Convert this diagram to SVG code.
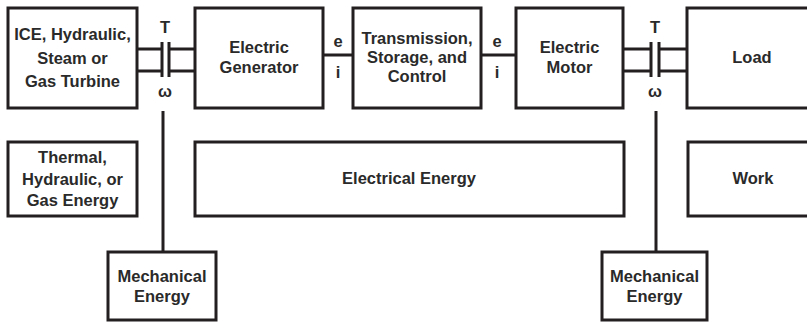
<svg xmlns="http://www.w3.org/2000/svg" width="807" height="322" viewBox="0 0 807 322">
<style>
.box{fill:#fff;stroke:#231f20;stroke-width:3}
.ln{stroke:#231f20;stroke-width:3;fill:none}
.t{font-family:"Liberation Sans",Arial,sans-serif;font-weight:bold;font-size:16.5px;fill:#2a2a2a;text-anchor:middle}
</style>
<rect width="807" height="322" fill="#fff"/>
<g id="connectors">
<path class="ln" d="M137 49H162M137 71H162M169 49H195M169 71H195M162 42V77M169 42V77"/>
<path class="ln" d="M163 111V252"/>
<path class="ln" d="M323 55H353M481 55H516"/>
<path class="ln" d="M623 49H651M623 71H651M659 49H687M659 71H687M651 42V77M659 42V77"/>
<path class="ln" d="M656 111V252"/>
<text class="t" x="165" y="33">T</text>
<text class="t" x="165" y="97">ω</text>
<text class="t" x="338" y="47">e</text>
<text class="t" x="338" y="78">i</text>
<text class="t" x="497" y="47">e</text>
<text class="t" x="497" y="78">i</text>
<text class="t" x="655" y="33">T</text>
<text class="t" x="655" y="97">ω</text>
</g>
<g id="ice">
<rect class="box" x="8" y="8" width="129" height="100"/>
<text class="t" x="72.5" y="40">ICE, Hydraulic,</text>
<text class="t" x="72.5" y="64">Steam or</text>
<text class="t" x="72.5" y="87">Gas Turbine</text>
</g>
<g id="generator">
<rect class="box" x="195" y="8" width="128" height="100"/>
<text class="t" x="259" y="53">Electric</text>
<text class="t" x="259" y="73">Generator</text>
</g>
<g id="transmission">
<rect class="box" x="353" y="8" width="128" height="100"/>
<text class="t" x="417" y="44">Transmission,</text>
<text class="t" x="417" y="63">Storage, and</text>
<text class="t" x="417" y="82">Control</text>
</g>
<g id="motor">
<rect class="box" x="516" y="8" width="107" height="100"/>
<text class="t" x="569.5" y="53">Electric</text>
<text class="t" x="569.5" y="73">Motor</text>
</g>
<g id="load">
<rect class="box" x="687" y="8" width="130" height="100"/>
<text class="t" x="752" y="63">Load</text>
</g>
<g id="thermal">
<rect class="box" x="8" y="142" width="129" height="74"/>
<text class="t" x="72.5" y="163">Thermal,</text>
<text class="t" x="72.5" y="185">Hydraulic, or</text>
<text class="t" x="72.5" y="206">Gas Energy</text>
</g>
<g id="electrical">
<rect class="box" x="195" y="142" width="429" height="74"/>
<text class="t" x="409" y="184">Electrical Energy</text>
</g>
<g id="work">
<rect class="box" x="688" y="142" width="129" height="74"/>
<text class="t" x="753" y="184">Work</text>
</g>
<g id="mech-left">
<rect class="box" x="108" y="252" width="108" height="68"/>
<text class="t" x="162" y="282">Mechanical</text>
<text class="t" x="162" y="302">Energy</text>
</g>
<g id="mech-right">
<rect class="box" x="602" y="252" width="105" height="68"/>
<text class="t" x="654.5" y="282">Mechanical</text>
<text class="t" x="654.5" y="302">Energy</text>
</g>
</svg>
